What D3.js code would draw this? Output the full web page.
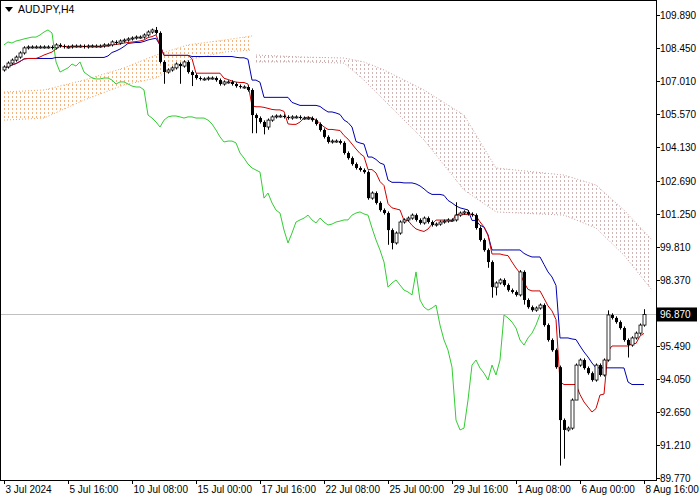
<!DOCTYPE html>
<html><head><meta charset="utf-8">
<script src="https://cdn.jsdelivr.net/npm/d3@7"></script>
<style>body{margin:0;background:#fff}svg{display:block}</style>
</head><body><svg id="c" width="700" height="500"></svg>
<script>
const closes=[107.63,107.80,107.93,108.06,108.24,108.46,108.50,108.50,108.50,108.50,108.50,108.50,108.46,108.59,108.54,108.50,108.50,108.54,108.54,108.54,
108.50,108.54,108.54,108.54,108.54,108.59,108.59,108.72,108.67,108.76,108.80,108.85,108.89,108.93,108.93,109.02,109.15,109.24,109.11,107.85,
107.41,107.50,107.59,107.76,107.67,107.85,107.41,107.28,107.15,107.11,107.11,107.15,107.15,107.06,106.89,106.98,106.98,106.89,106.80,106.76,
106.76,106.63,105.54,105.41,105.24,105.02,105.32,105.46,105.50,105.50,105.46,105.41,105.46,105.46,105.41,105.41,105.41,105.32,105.15,104.89,
104.59,104.37,104.41,104.41,104.33,103.89,103.67,103.41,103.24,103.15,103.06,101.93,102.15,101.72,101.41,101.28,100.54,99.98,100.41,100.89,
100.98,101.06,101.19,100.98,100.85,101.06,100.89,100.76,100.80,100.89,100.93,100.98,100.98,101.19,101.28,101.33,101.24,101.19,100.63,100.11,
99.67,99.15,98.06,98.24,98.37,98.15,97.93,97.85,97.72,98.72,97.50,97.19,97.06,97.15,97.28,96.41,95.76,95.32,94.58,92.28,
91.85,91.93,93.15,94.67,94.89,94.54,94.32,94.02,94.67,94.24,94.89,96.85,96.72,96.54,96.28,95.76,95.54,95.85,96.06,96.41,96.87];
const firstOpen=107.50;
const highOverride={38:109.37,113:101.75,151:97.05,160:97.10,129:98.80,37:109.30};
const lowOverride={40:106.90,44:106.90,47:106.80,62:104.75,63:104.75,65:104.70,66:104.90,96:99.90,97:99.70,122:97.60,123:97.70,130:97.30,139:90.30,140:90.60,143:93.50,156:95.00,121:98.9};
const cloudIdx=[0,10,20,30,38,46,55,62,63,75,85,90,95,105,115,123,140,148,155,162];
const cloudTop=[106.54,106.63,107.06,107.59,108.15,108.59,108.80,108.98,108.15,108.06,108.02,107.85,107.50,106.63,105.54,103.24,102.93,102.50,101.41,100.11];
const cloudBot=[105.32,105.41,106.19,106.85,107.15,107.93,108.28,108.37,107.85,107.85,107.80,107.06,106.19,104.46,102.28,101.33,101.19,100.63,99.45,97.93];
const timeLabels=["3 Jul 2024","5 Jul 16:00","10 Jul 08:00","15 Jul 00:00","17 Jul 16:00","22 Jul 08:00","25 Jul 00:00","29 Jul 16:00","1 Aug 08:00","6 Aug 00:00","8 Aug 16:00"];
const priceTicks=[109.890,108.450,107.010,105.570,104.130,102.690,101.250,99.810,98.370,95.490,94.050,92.650,91.210,89.770];
const current=96.870;

const svg=d3.select("#c");
const W=656,H=480;
const x=d3.scaleLinear().domain([0,160]).range([4,644]);
const y=d3.scaleLinear().domain([89.77,109.89]).range([477.8,15]);
const bars=closes.map((c,i)=>{const o=i?closes[i-1]:firstOpen;
 const h=highOverride[i]!==undefined?highOverride[i]:Math.max(o,c)+0.07;
 const l=lowOverride[i]!==undefined?lowOverride[i]:Math.min(o,c)-0.07;return{i,o,c,h,l};});
function mid(i,n){const s=bars.slice(Math.max(0,i-n+1),i+1);return(d3.max(s,d=>d.h)+d3.min(s,d=>d.l))/2;}
const tenkan=bars.map(b=>({i:b.i,v:mid(b.i,9)}));
const kijun=bars.map(b=>({i:b.i,v:mid(b.i,26)}));
const chikou=bars.filter(b=>b.i>=26).map(b=>({i:b.i-26,v:b.c}));

const defs=svg.append("defs");
defs.append("clipPath").attr("id","pc").append("rect").attr("x",1).attr("y",1).attr("width",W-1).attr("height",H-1);
function pat(id,col){const p=defs.append("pattern").attr("id",id).attr("width",4).attr("height",4).attr("patternUnits","userSpaceOnUse");
 p.append("rect").attr("x",0).attr("y",0).attr("width",1).attr("height",2).attr("fill",col);}
pat("po","#f5b27a");pat("pg","#cfb4b4");
const g=svg.append("g").attr("clip-path","url(#pc)");
const cd=cloudIdx.map((k,j)=>({i:k,t:cloudTop[j],b:cloudBot[j]}));
const area=d3.area().x(d=>x(d.i)).y0(d=>y(d.b)).y1(d=>y(d.t));
const edge=d3.line().x(d=>x(d.i)).y(d=>y(d.v));
[[cd.filter(d=>d.i<=62),"po","#f4a460"],[cd.filter(d=>d.i>=63),"pg","#c9a0a0"]].forEach(([dd,p,col])=>{
 g.append("path").attr("d",area(dd)).attr("fill",`url(#${p})`);
 g.append("path").attr("d",edge(dd.map(d=>({i:d.i,v:d.t})))).attr("fill","none").attr("stroke",col).attr("stroke-dasharray","1,2");
 g.append("path").attr("d",edge(dd.map(d=>({i:d.i,v:d.b})))).attr("fill","none").attr("stroke",col).attr("stroke-dasharray","1,2");
});
g.append("line").attr("x1",0).attr("x2",W).attr("y1",y(current)).attr("y2",y(current)).attr("stroke","#c0c0c0");
const line=d3.line().x(d=>x(d.i)).y(d=>y(d.v));
g.append("path").attr("d",line(chikou)).attr("fill","none").attr("stroke","#32cd32").attr("stroke-width",1);
g.append("path").attr("d",line(kijun)).attr("fill","none").attr("stroke","#0000b0").attr("stroke-width",1);
g.append("path").attr("d",line(tenkan)).attr("fill","none").attr("stroke","#d00000").attr("stroke-width",1);
const cg=g.selectAll("g.b").data(bars).join("g");
cg.append("line").attr("x1",d=>Math.round(x(d.i))+0.5).attr("x2",d=>Math.round(x(d.i))+0.5).attr("y1",d=>y(d.h)).attr("y2",d=>y(d.l)).attr("stroke","#000");
cg.append("rect").attr("x",d=>Math.round(x(d.i))-1).attr("width",3)
 .attr("y",d=>y(Math.max(d.o,d.c))).attr("height",d=>Math.max(1,Math.abs(y(d.o)-y(d.c))))
 .attr("fill",d=>d.c>=d.o?"#fff":"#000").attr("stroke","#000").attr("stroke-width",d=>d.c>=d.o?0.8:0);
svg.append("rect").attr("x",0.5).attr("y",0.5).attr("width",W).attr("height",H).attr("fill","none").attr("stroke","#000");
const f="'Liberation Sans',Arial,sans-serif";
svg.append("path").attr("d","M5,7 L13,7 L9,12 Z").attr("fill","#000");
svg.append("text").attr("x",18).attr("y",13).attr("font-family",f).attr("font-size",10.5).text("AUDJPY,H4");
priceTicks.forEach(p=>{svg.append("line").attr("x1",W).attr("x2",W+4).attr("y1",Math.round(y(p))+0.5).attr("y2",Math.round(y(p))+0.5).attr("stroke","#000");
 svg.append("text").attr("x",W+4).attr("y",y(p)+4).attr("font-family",f).attr("font-size",10).text(p.toFixed(3));});
svg.append("rect").attr("x",W+1).attr("y",y(current)-7).attr("width",40).attr("height",14).attr("fill","#000");
svg.append("text").attr("x",W+4).attr("y",y(current)+4).attr("font-family",f).attr("font-size",10).attr("fill","#fff").text(current.toFixed(3));
timeLabels.forEach((t,k)=>{const xi=Math.round(x(k*16))+0.5;
 svg.append("line").attr("x1",xi).attr("x2",xi).attr("y1",H).attr("y2",H+4).attr("stroke","#000");
 svg.append("text").attr("x",xi+1).attr("y",H+13).attr("font-family",f).attr("font-size",10).text(t);});
</script></body></html>
